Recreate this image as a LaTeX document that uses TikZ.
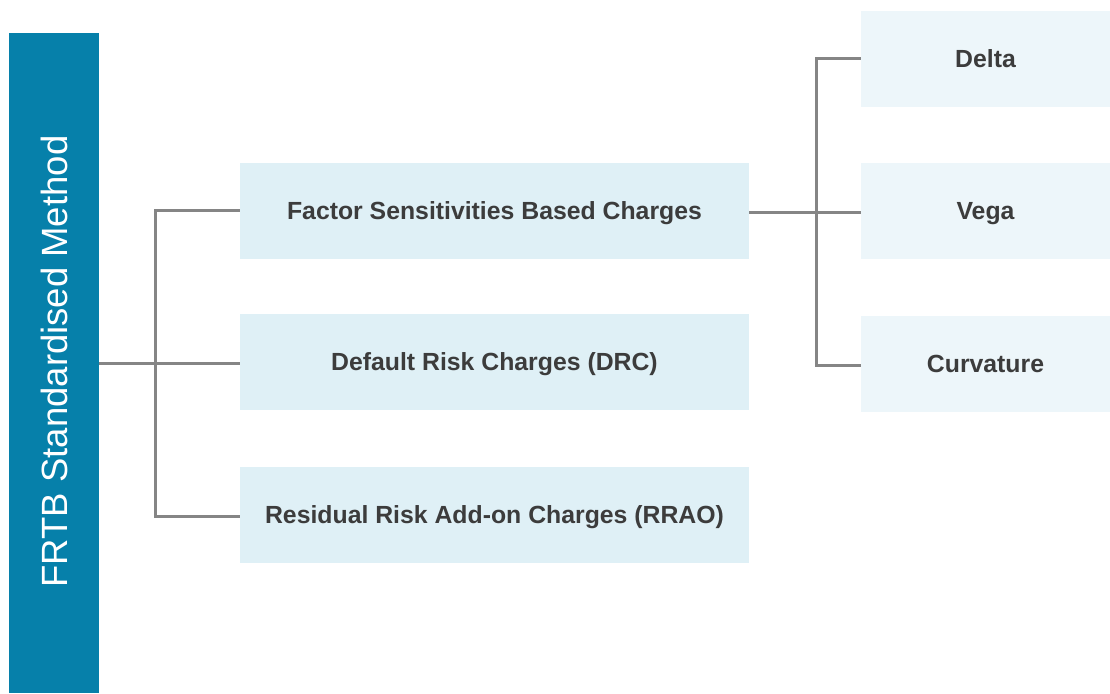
\documentclass[tikz,border=0pt]{standalone}
\usepackage{fontspec}
\setmainfont{Liberation Sans}
\definecolor{barblue}{HTML}{0680AA}
\definecolor{midbox}{HTML}{DFF0F6}
\definecolor{rightbox}{HTML}{EDF6FA}
\definecolor{linegray}{HTML}{858585}
\definecolor{txtgray}{HTML}{3C3C3C}
\begin{document}
\begin{tikzpicture}[x=1pt,y=-1pt,
  boxtext/.style={inner sep=0pt, text=txtgray, font=\fontsize{24.8}{28}\selectfont\bfseries, text height=17.9pt, text depth=0pt},
  midnode/.style={boxtext, fill=midbox, minimum width=509pt, minimum height=96pt},
  rightnode/.style={boxtext, fill=rightbox, minimum width=249pt, minimum height=96pt},
  conn/.style={draw=linegray, line width=3pt}]
\useasboundingbox (0,0) rectangle (1110,693);
\fill[white] (0,0) rectangle (1110,693);
\node[fill=barblue, minimum width=90pt, minimum height=660pt, inner sep=0pt, anchor=north west] (bar) at (9,33) {};
\node[rotate=90, text=white, inner sep=0pt, text height=26.3pt, text depth=0pt, font=\fontsize{36.5}{40}\selectfont] (bartxt) at (54.5,361.5) {FRTB Standardised Method};
\node[midnode] (fsb) at (494.5,211) {Factor Sensitivities Based Charges};
\node[midnode] (drc) at (494.5,362) {Default Risk Charges (DRC)};
\node[midnode] (rrao) at (494.5,515) {Residual Risk Add-on Charges (RRAO)};
\node[rightnode] (delta) at (985.5,59) {Delta};
\node[rightnode] (vega) at (985.5,211) {Vega};
\node[rightnode] (curv) at (985.5,364) {Curvature};
\coordinate (j1) at (155,363);
\coordinate (j2) at (816,212);
\draw[conn] (bar.east |- j1) -- (drc.west |- j1);
\draw[conn] (fsb.west |- 0,210) -| (155,210) |- (rrao.west |- 0,516);
\draw[conn] (fsb.east |- j2) -- (vega.west |- j2);
\draw[conn] (delta.west |- 0,59) -| (816,59) |- (curv.west |- 0,365);
\end{tikzpicture}
\end{document}
